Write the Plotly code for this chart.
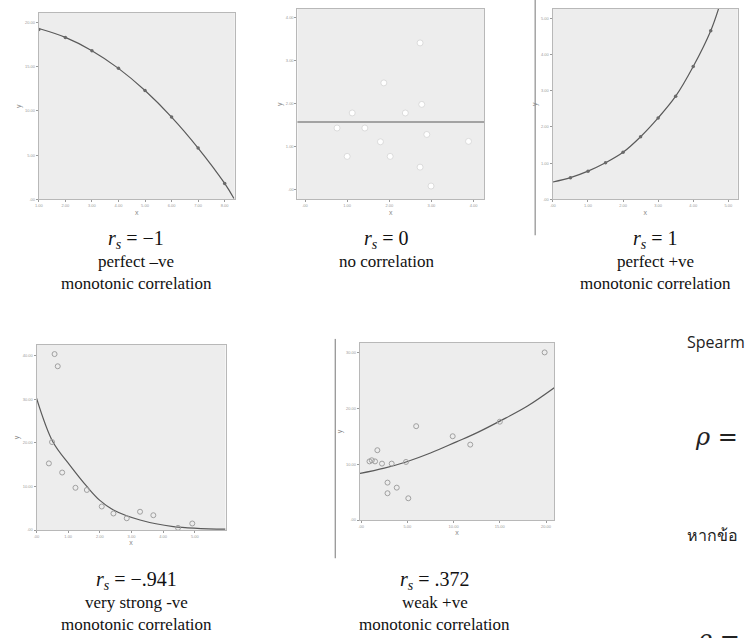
import plotly.graph_objects as go

W, H = 749, 638

# ---------------- data ----------------
p1_x = [1, 2, 3, 4, 5, 6, 7, 8]
p1_y = [19.2, 18.3, 16.8, 14.8, 12.3, 9.3, 5.8, 1.8]
p1_fit_x = [1, 2, 3, 4, 5, 6, 7, 8, 8.35]
p1_fit_y = [19.3, 18.3, 16.8, 14.8, 12.3, 9.3, 5.8, 1.8, 0.1]
p1_xticks = [1, 2, 3, 4, 5, 6, 7, 8]
p1_xlabels = ["1.00", "2.00", "3.00", "4.00", "5.00", "6.00", "7.00", "8.00"]
p1_yticks = [0, 5, 10, 15, 20]
p1_ylabels = [".00", "5.00", "10.00", "15.00", "20.00"]

p2_x = [1.12, 0.76, 1.42, 1.87, 1.79, 1.00, 2.02, 2.38, 2.73, 2.89, 2.73, 2.99, 3.88, 2.77]
p2_y = [1.78, 1.43, 1.43, 2.48, 1.11, 0.77, 0.77, 1.78, 3.41, 1.28, 0.52, 0.08, 1.12, 1.98]
p2_fit_x = [-0.2, 4.3]
p2_fit_y = [1.57, 1.57]
p2_xticks = [0, 1, 2, 3, 4]
p2_xlabels = [".00", "1.00", "2.00", "3.00", "4.00"]
p2_yticks = [0, 1, 2, 3, 4]
p2_ylabels = [".00", "1.00", "2.00", "3.00", "4.00"]

p3_x = [0.5, 1.0, 1.5, 2.0, 2.5, 3.0, 3.5, 4.0, 4.5]
p3_y = [0.60, 0.78, 1.01, 1.30, 1.73, 2.25, 2.85, 3.67, 4.66]
p3_fit_x = [0, 0.5, 1.0, 1.5, 2.0, 2.5, 3.0, 3.5, 4.0, 4.5, 4.75]
p3_fit_y = [0.48, 0.60, 0.78, 1.01, 1.30, 1.73, 2.25, 2.85, 3.67, 4.66, 5.35]
p3_xticks = [0, 1, 2, 3, 4, 5]
p3_xlabels = [".00", "1.00", "2.00", "3.00", "4.00", "5.00"]
p3_yticks = [0, 1, 2, 3, 4, 5]
p3_ylabels = [".00", "1.00", "2.00", "3.00", "4.00", "5.00"]

p4_x = [0.57, 0.67, 0.49, 0.39, 0.81, 1.23, 1.59, 2.06, 2.43, 2.85, 3.27, 3.69, 4.47, 4.92]
p4_y = [4.04, 3.76, 2.02, 1.53, 1.32, 0.97, 0.92, 0.54, 0.38, 0.27, 0.42, 0.34, 0.05, 0.15]
p4_fit_x = [0, 0.52, 1.05, 1.59, 2.0, 2.43, 3.27, 4.32, 5.97]
p4_fit_y = [3.03, 2.02, 1.49, 1.00, 0.68, 0.46, 0.23, 0.08, 0.02]
p4_xticks = [0, 1, 2, 3, 4, 5]
p4_xlabels = [".00", "1.00", "2.00", "3.00", "4.00", "5.00"]
p4_yticks = [0, 1, 2, 3, 4]
p4_ylabels = [".00", "10.00", "20.00", "30.00", "40.00"]

p5_x = [3.97, 1.19, 1.98, 2.36, 0.35, 0.23, 0.18, 0.30, 0.45, 0.66, 0.97, 0.57, 0.77, 0.57, 1.02, 3.00]
p5_y = [3.00, 1.68, 1.50, 1.35, 1.25, 1.07, 1.05, 1.05, 1.01, 1.01, 1.04, 0.67, 0.58, 0.48, 0.39, 1.76]
p5_fit_x = [-0.05, 0.5, 0.97, 1.5, 2.06, 2.5, 3.0, 3.6, 4.2]
p5_fit_y = [0.83, 0.93, 1.04, 1.20, 1.40, 1.56, 1.77, 2.04, 2.38]
p5_xticks = [0, 1, 2, 3, 4]
p5_xlabels = [".00", "5.00", "10.00", "15.00", "20.00"]
p5_yticks = [0, 1, 2, 3]
p5_ylabels = [".00", "10.00", "20.00", "30.00"]

captions = [
    ("<i>r<sub>s</sub></i> = −1", "perfect –ve", "monotonic correlation"),
    ("<i>r<sub>s</sub></i> = 0", "no correlation", ""),
    ("<i>r<sub>s</sub></i> = 1", "perfect +ve", "monotonic correlation"),
    ("<i>r<sub>s</sub></i> = −.941", "very strong -ve", "monotonic correlation"),
    ("<i>r<sub>s</sub></i> = .372", "weak +ve", "monotonic correlation"),
]
side_texts = ["Spearm", "<i>ρ</i> =", "หากข้อ", "<i>ρ</i> ="]

# ---------------- layout helpers ----------------
def dx(a, b):
    return [a / W, b / W]

def dy(top, bottom):
    return [1 - bottom / H, 1 - top / H]

panels = [
    dict(x=p1_x, y=p1_y, fx=p1_fit_x, fy=p1_fit_y, xt=p1_xticks, xl=p1_xlabels, yt=p1_yticks, yl=p1_ylabels,
         xd=dx(35, 232), yd=dy(13, 200), xr=[1, 8.38], yr=[0, 21.06], mk="dot"),
    dict(x=p2_x, y=p2_y, fx=p2_fit_x, fy=p2_fit_y, xt=p2_xticks, xl=p2_xlabels, yt=p2_yticks, yl=p2_ylabels,
         xd=dx(295, 482.7), yd=dy(9, 200), xr=[-0.18, 4.25], yr=[-0.23, 4.2], mk="white"),
    dict(x=p3_x, y=p3_y, fx=p3_fit_x, fy=p3_fit_y, xt=p3_xticks, xl=p3_xlabels, yt=p3_yticks, yl=p3_ylabels,
         xd=dx(551.5, 737.7), yd=dy(9, 200), xr=[-0.01, 5.27], yr=[0, 5.26], mk="dot"),
    dict(x=p4_x, y=p4_y, fx=p4_fit_x, fy=p4_fit_y, xt=p4_xticks, xl=p4_xlabels, yt=p4_yticks, yl=p4_ylabels,
         xd=dx(32.7, 222.7), yd=dy(346, 531.7), xr=[0, 5.97], yr=[0, 4.25], mk="open"),
    dict(x=p5_x, y=p5_y, fx=p5_fit_x, fy=p5_fit_y, xt=p5_xticks, xl=p5_xlabels, yt=p5_yticks, yl=p5_ylabels,
         xd=dx(357.7, 553.3), yd=dy(344, 521.7), xr=[-0.03, 4.18], yr=[0, 3.17], mk="open"),
]

fig = go.Figure()
layout = dict(
    width=W, height=H, margin=dict(l=0, r=0, t=0, b=0),
    paper_bgcolor="white", plot_bgcolor="#ededed", showlegend=False,
)

axis_font = dict(family="Liberation Sans", size=4, color="#9a9a9a")
title_font = dict(family="Liberation Sans", size=7, color="#8a8a8a")
for i, p in enumerate(panels, start=1):
    xa = "x" if i == 1 else f"x{i}"
    ya = "y" if i == 1 else f"y{i}"
    if p["mk"] == "dot":
        marker = dict(size=3.5, color="#6a6a6a", symbol="circle")
    elif p["mk"] == "white":
        marker = dict(size=6, color="white", line=dict(color="#d4d4d4", width=0.8))
    else:
        marker = dict(size=5, color="#a0a0a0", symbol="circle-open", line=dict(width=1))
    fig.add_trace(go.Scatter(x=p["fx"], y=p["fy"], mode="lines",
                             line=dict(color="#5a5a5a", width=1.2, shape="spline" if i != 2 else "linear"),
                             xaxis=xa, yaxis=ya, hoverinfo="skip"))
    fig.add_trace(go.Scatter(x=p["x"], y=p["y"], mode="markers", marker=marker, xaxis=xa, yaxis=ya))
    common = dict(showgrid=False, zeroline=False, showline=True, mirror=True, linecolor="#b8b8b8", linewidth=1,
                  ticks="outside", ticklen=2, tickcolor="#9a9a9a", tickfont=axis_font, fixedrange=True)
    layout["xaxis" if i == 1 else f"xaxis{i}"] = dict(domain=p["xd"], range=p["xr"], anchor=ya,
                                                       tickvals=p["xt"], ticktext=p["xl"],
                                                       title=dict(text="x", font=title_font, standoff=2), **common)
    layout["yaxis" if i == 1 else f"yaxis{i}"] = dict(domain=p["yd"], range=p["yr"], anchor=xa,
                                                       tickvals=p["yt"], ticktext=p["yl"], tickangle=0,
                                                       title=dict(text="y", font=title_font, standoff=2), **common)

fig.update_layout(**layout)

annotations = []
def ann(text, x, y, size, family="Liberation Serif", color="#111111", xanchor="center"):
    annotations.append(dict(text=text, x=x / W, y=1 - y / H, xref="paper", yref="paper",
                            showarrow=False, xanchor=xanchor, yanchor="middle",
                            font=dict(family=family, size=size, color=color)))

# captions
cap_pos = [(133, 240), (385, 240), (655, 240), (133, 582), (433, 582)]
for (a, b, c), (cx, cy) in zip(captions, cap_pos):
    ann(a, cx, cy, 20)
    ann(b, cx, cy + 22, 17)
    if c:
        ann(c, cx, cy + 44, 17)

# right-hand text (cut off at the page edge in the original)
ann(side_texts[0], 685, 343, 16, family="Open Sans", color="#222", xanchor="left")
ann(side_texts[1], 693, 438, 24, family="DejaVu Serif", color="#222", xanchor="left")
ann(side_texts[2], 685, 537, 16, family="Noto Sans", color="#222", xanchor="left")
ann(side_texts[3], 695, 641, 24, family="DejaVu Serif", color="#222", xanchor="left")

fig.update_layout(annotations=annotations)

# separator lines
fig.update_layout(shapes=[
    dict(type="line", xref="paper", yref="paper", x0=534 / W, x1=534 / W, y0=1 - 236 / H, y1=1.0,
         line=dict(color="#777", width=1)),
    dict(type="line", xref="paper", yref="paper", x0=333 / W, x1=333 / W, y0=1 - 560 / H, y1=1 - 340 / H,
         line=dict(color="#777", width=1)),
])

fig.write_html("out.html", config={"displayModeBar": False},
               post_script="document.body.style.margin='0';")
